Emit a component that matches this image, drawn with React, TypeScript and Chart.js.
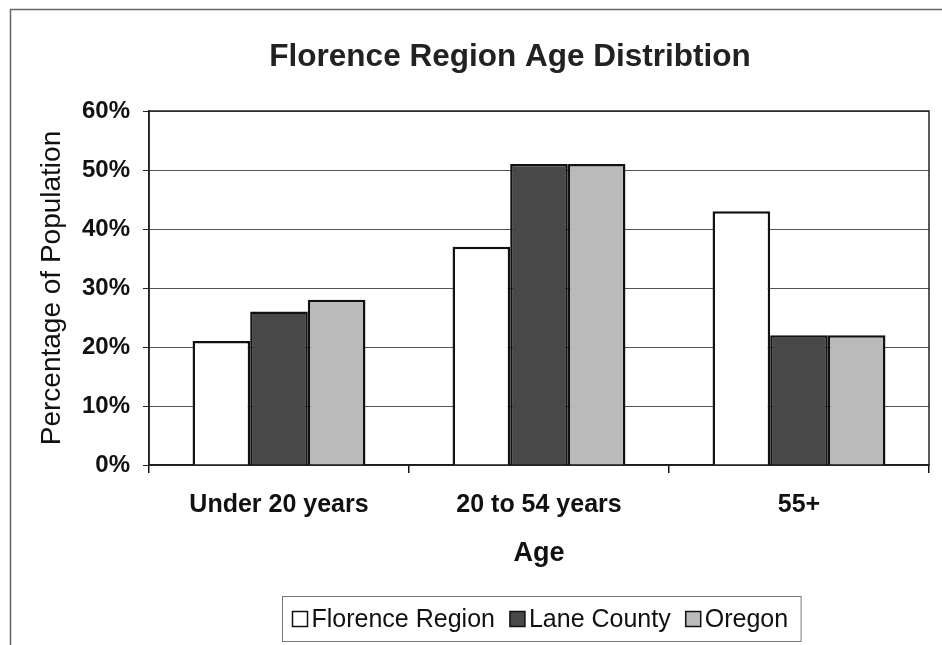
import { useEffect, useRef } from "react";
import { Chart, registerables } from "chart.js";

Chart.register(...registerables);

const chartTitle = "Florence Region Age Distribtion";
const categories = ["Under 20 years", "20 to 54 years", "55+"];
const seriesNames = ["Florence Region", "Lane County", "Oregon"];
const florenceRegion = [21, 37, 43];
const laneCounty = [26, 51, 22];
const oregon = [28, 51, 22];
const yTicks = [0, 10, 20, 30, 40, 50, 60];
const seriesColors = ["#ffffff", "#484848", "#bababa"];

const FONT = "'Liberation Sans', Arial, sans-serif";

const framePlugin = {
  id: "frame",
  beforeDraw(chart: any) {
    const ctx = chart.ctx;
    ctx.save();
    ctx.fillStyle = "#ffffff";
    ctx.fillRect(0, 0, chart.width, chart.height);
    ctx.strokeStyle = "#666";
    ctx.lineWidth = 1.5;
    ctx.beginPath();
    ctx.moveTo(10.5, chart.height);
    ctx.lineTo(10.5, 9.5);
    ctx.lineTo(chart.width, 9.5);
    ctx.stroke();
    // chart title
    ctx.fillStyle = "#222";
    ctx.font = `bold 31.5px ${FONT}`;
    ctx.textAlign = "center";
    ctx.textBaseline = "alphabetic";
    ctx.fillText(chartTitle, 510, 66);
    ctx.restore();
  },
  beforeDatasetsDraw(chart: any) {
    const { ctx, chartArea } = chart;
    ctx.save();
    ctx.strokeStyle = "#222";
    ctx.lineWidth = 1.5;
    ctx.strokeRect(chartArea.left, chartArea.top, chartArea.right - chartArea.left, chartArea.bottom - chartArea.top);
    ctx.restore();
  },
  afterDraw(chart: any) {
    const { ctx, chartArea } = chart;
    const ds = chart.data.datasets;
    ctx.save();
    ctx.font = `25px ${FONT}`;
    const box = 15;
    const gapBoxText = 4;
    const gapItems = 15;
    const widths = ds.map((d: any) => box + gapBoxText + ctx.measureText(d.label).width);
    const total = widths.reduce((a: number, b: number) => a + b, 0) + gapItems * (ds.length - 1);
    const padL = 10;
    const padR = 13;
    const frameW = total + padL + padR;
    const cx = (chartArea.left + chartArea.right) / 2 + 2;
    const frameX = Math.round(cx - frameW / 2) + 0.5;
    const frameY = chart.height - 48.5;
    const frameH = 45;
    ctx.strokeStyle = "#777";
    ctx.lineWidth = 1;
    ctx.strokeRect(frameX, frameY, frameW, frameH);
    const cy = frameY + frameH / 2;
    let x = frameX + padL;
    ds.forEach((d: any, i: number) => {
      ctx.fillStyle = d.backgroundColor;
      ctx.fillRect(x, cy - box / 2, box, box);
      ctx.strokeStyle = "#111";
      ctx.lineWidth = 1.5;
      ctx.strokeRect(x, cy - box / 2, box, box);
      ctx.fillStyle = "#111";
      ctx.textBaseline = "middle";
      ctx.textAlign = "left";
      ctx.fillText(d.label, x + box + gapBoxText, cy + 1);
      x += widths[i] + gapItems;
    });
    ctx.restore();
  },
};

export default function App() {
  const canvasRef = useRef<HTMLCanvasElement | null>(null);

  useEffect(() => {
    document.body.style.margin = "0";
    const canvas = canvasRef.current;
    if (!canvas) return;
    const seriesData = [florenceRegion, laneCounty, oregon];
    const chart = new Chart(canvas, {
      type: "bar",
      data: {
        labels: categories,
        datasets: seriesNames.map((name, i) => ({
          label: name,
          data: seriesData[i],
          backgroundColor: seriesColors[i],
          borderColor: "#111",
          borderWidth: 2.5,
          categoryPercentage: 0.665,
          barPercentage: 1.0,
        })),
      },
      options: {
        responsive: false,
        animation: false,
        devicePixelRatio: 1,
        layout: { padding: { left: 20, right: 13, top: 111, bottom: 65 } },
        plugins: {
          legend: { display: false },
          tooltip: { enabled: false },
          title: { display: false },
        },
        scales: {
          x: {
            ticks: {
              color: "#111",
              font: { family: FONT, size: 25, weight: "bold" },
              padding: 17,
            },
            grid: {
              offset: true,
              drawOnChartArea: false,
              drawTicks: true,
              tickLength: 8,
              color: "#111",
              lineWidth: 1.5,
            },
            border: { color: "#111", width: 1.5 },
            title: {
              display: true,
              text: "Age",
              color: "#111",
              font: { family: FONT, size: 27, weight: "bold" },
              padding: { top: 10, bottom: 10 },
            },
            afterFit: (s: any) => {
              s.height = 115;
            },
          },
          y: {
            min: 0,
            max: 60,
            afterBuildTicks: (s: any) => {
              s.ticks = yTicks.map((v) => ({ value: v }));
            },
            ticks: {
              color: "#111",
              font: { family: FONT, size: 24, weight: "bold" },
              padding: 13,
              callback: (v: any) => `${v}%`,
            },
            grid: {
              color: "#555",
              lineWidth: 1,
              tickLength: 6,
              tickColor: "#222",
            },
            border: { color: "#111", width: 1.5 },
            title: {
              display: true,
              text: "Percentage of Population",
              color: "#111",
              font: { family: FONT, size: 28 },
              padding: { top: 15, bottom: 0 },
            },
            afterFit: (s: any) => {
              s.width = 129;
            },
          },
        },
      },
      plugins: [framePlugin],
    });
    return () => chart.destroy();
  }, []);

  return <canvas ref={canvasRef} width={942} height={645} style={{ display: "block" }} />;
}
